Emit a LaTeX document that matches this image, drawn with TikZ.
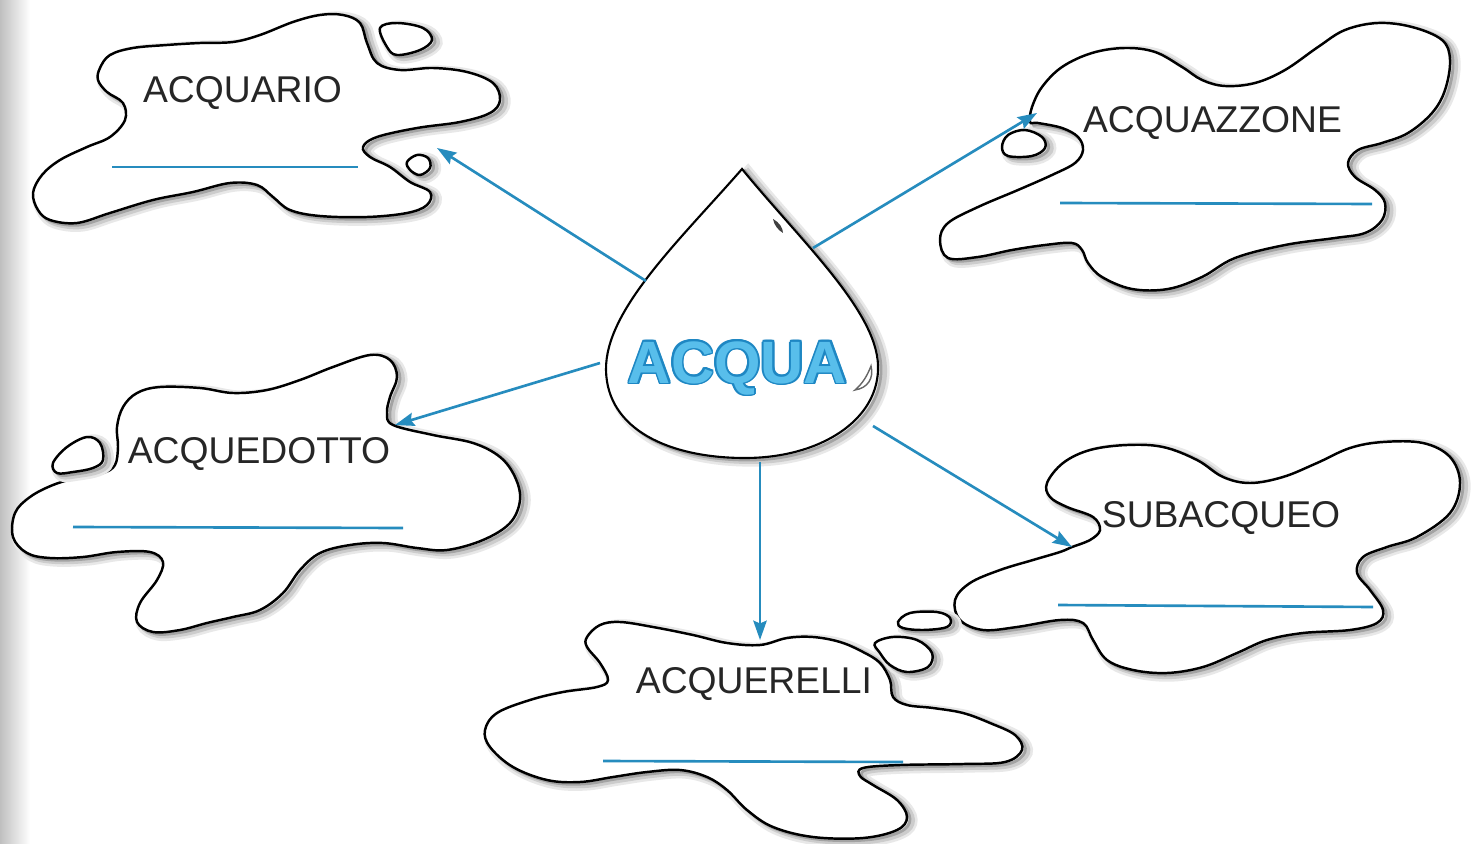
\documentclass[tikz,border=0pt]{standalone}
\usepackage{fontspec}
\setmainfont{Liberation Sans}
\usetikzlibrary{arrows.meta}
\definecolor{lineblue}{RGB}{38,140,190}
\definecolor{acquafill}{RGB}{88,190,235}
\definecolor{acquaedge}{RGB}{30,135,195}
\newcommand\puddleshape[1]{%
  \begin{scope}[shift={(5,3)}]
    \path[shadowA] plot[smooth cycle, tension=0.6] coordinates {#1};
    \path[shadowB] plot[smooth cycle, tension=0.6] coordinates {#1};
  \end{scope}
  \begin{scope}[shift={(3,2)}]
    \path[shadowC] plot[smooth cycle, tension=0.6] coordinates {#1};
  \end{scope}
  \path[outline] plot[smooth cycle, tension=0.6] coordinates {#1};
}
\begin{document}
\begin{tikzpicture}[x=0.01cm,y=-0.01cm,
  outline/.style={draw=black, line width=0.7pt, fill=white},
  shadowA/.style={draw=black!9, line width=3.2pt},
  shadowB/.style={draw=black!20, line width=1.7pt},
  shadowC/.style={draw=black!36, line width=0.8pt},
  arr/.style={draw=lineblue, line width=0.75pt, -{Stealth[length=5.5pt,width=3.8pt,inset=0.8pt]}},
  blank/.style={draw=lineblue, line width=0.75pt},
  lbl/.style={font=\fontsize{10.6pt}{12pt}\selectfont, anchor=base, inner sep=0pt, text=black!85},
  acquatxt/.style={font=\fontsize{17pt}{20pt}\selectfont\bfseries, anchor=base, inner sep=0pt},
]
\useasboundingbox (0,0) rectangle (1480,843);
\fill[white] (0,0) rectangle (1480,843);
\shade[left color=black!25, right color=white] (0,0) rectangle (30,843);

% ACQUARIO puddle
\puddleshape{(100,68) (110,55) (133,48) (167,45) (200,43) (233,42) (260,35) (293,22) (320,15) (343,15) (360,23) (367,43) (377,63) (400,70) (433,68) (467,72) (493,83) (500,100) (490,113) (460,122) (417,128) (377,137) (363,147) (370,157) (390,167) (410,182) (430,192) (427,205) (407,213) (367,217) (320,216) (290,210) (273,197) (257,185) (230,183) (193,192) (153,200) (110,213) (77,223) (50,220) (38,210) (33,193) (42,175) (60,160) (87,147) (110,137) (125,120) (123,103) (107,92) (98,80)}
\puddleshape{(380,28) (397,23) (423,28) (432,40) (420,50) (397,55) (387,47)}
\puddleshape{(407,162) (417,155) (428,158) (430,168) (420,175) (410,170)}

% ACQUAZZONE puddle
\puddleshape{(1030,122) (1032,107) (1042,87) (1062,67) (1092,53) (1125,48) (1155,52) (1182,67) (1202,80) (1225,86) (1255,83) (1285,70) (1318,47) (1345,30) (1378,23) (1412,27) (1442,40) (1450,60) (1445,90) (1432,113) (1408,133) (1382,143) (1358,150) (1348,163) (1355,177) (1375,190) (1385,203) (1382,220) (1365,233) (1335,238) (1285,245) (1235,258) (1202,277) (1168,289) (1132,289) (1102,277) (1088,263) (1082,250) (1072,243) (1045,245) (1012,250) (978,257) (948,258) (940,240) (948,223) (978,207) (1018,190) (1052,175) (1075,163) (1083,150) (1078,137) (1062,128) (1038,123)}
\puddleshape{(1002,147) (1008,135) (1025,130) (1042,137) (1045,148) (1032,156) (1008,156)}

% ACQUEDOTTO puddle
\puddleshape{(370,355) (390,360) (397,377) (390,397) (387,413) (393,425) (433,435) (473,443) (500,457) (515,477) (520,500) (510,523) (483,540) (447,550) (417,548) (383,543) (350,545) (320,553) (300,570) (283,593) (260,610) (233,617) (207,623) (180,630) (153,632) (137,622) (140,603) (157,580) (163,562) (150,552) (117,552) (83,557) (50,558) (27,553) (13,537) (15,513) (30,497) (53,485) (80,477) (103,473) (115,465) (118,447) (117,427) (123,407) (137,393) (160,387) (200,388) (233,393) (267,390) (300,380) (333,367)}
\puddleshape{(53,463) (67,447) (87,437) (100,443) (103,460) (93,468) (73,472) (57,473)}

% SUBACQUEO puddle
\puddleshape{(1072,547) (1090,540) (1100,530) (1093,517) (1067,507) (1050,497) (1047,483) (1063,463) (1090,450) (1127,445) (1163,447) (1197,460) (1223,477) (1250,483) (1283,477) (1317,463) (1350,448) (1383,442) (1423,443) (1450,457) (1460,483) (1450,513) (1417,537) (1387,547) (1363,557) (1357,573) (1370,590) (1383,610) (1377,623) (1350,630) (1303,633) (1267,640) (1237,653) (1203,667) (1167,673) (1133,670) (1107,660) (1093,640) (1083,623) (1060,620) (1017,627) (983,630) (960,620) (955,600) (970,583) (1000,570) (1033,560) (1060,552)}

% ACQUERELLI puddle
\puddleshape{(587,637) (600,625) (620,622) (653,627) (693,635) (727,643) (760,645) (787,638) (813,637) (840,642) (863,652) (880,663) (890,680) (893,697) (907,705) (933,708) (963,713) (990,723) (1015,735) (1022,750) (1005,762) (963,764) (900,765) (863,768) (860,776) (873,785) (897,800) (907,817) (897,830) (863,838) (813,837) (773,827) (747,810) (727,790) (707,777) (680,770) (647,772) (613,777) (580,782) (547,780) (513,767) (490,747) (485,730) (497,713) (530,700) (563,692) (597,687) (608,680) (600,663) (587,647)}
\puddleshape{(898,622) (910,613) (937,612) (950,618) (947,627) (923,630) (903,628)}
\puddleshape{(875,643) (893,637) (917,640) (932,653) (928,667) (907,672) (890,665) (880,653)}

% drop
\newcommand\droppath{(742,169) .. controls (680,240) and (605,310) .. (606,370) .. controls (607,430) and (670,458) .. (745,458) .. controls (820,458) and (880,420) .. (878,365) .. controls (876,310) and (800,240) .. (742,169) -- cycle}
\begin{scope}[shift={(6,3)}]
  \path[shadowA] \droppath;
  \path[shadowB] \droppath;
\end{scope}
\begin{scope}[shift={(3,2)}]
  \path[shadowC] \droppath;
\end{scope}
\path[draw=black, line width=0.6pt, fill=white] \droppath;
\fill[black!75] (773,219) .. controls (779,222) and (783,228) .. (783,233) .. controls (778,230) and (774,225) .. (773,219) -- cycle;
\draw[black!60, line width=0.4pt, fill=white] (871,366) .. controls (874,378) and (868,388) .. (855,390) .. controls (863,383) and (867,376) .. (871,366) -- cycle;

% ACQUA text
\foreach \a in {0,22.5,...,337.5} {
  \path (737.5,383) ++(\a:1.8) node[acquatxt, text=acquaedge] (acquaedge-\a) {ACQUA};
}
\node[acquatxt, text=acquafill] (acqua) at (737.5,383) {ACQUA};

% arrows
\coordinate (d1) at (646,281); \coordinate (t1) at (437,148);
\coordinate (d2) at (813,248); \coordinate (t2) at (1037,113);
\coordinate (d3) at (600,363); \coordinate (t3) at (395,425);
\coordinate (d4) at (760,462); \coordinate (t4) at (760,640);
\coordinate (d5) at (873,426); \coordinate (t5) at (1072,547);
\draw[arr] (d1) -- (t1);
\draw[arr] (d2) -- (t2);
\draw[arr] (d3) -- (t3);
\draw[arr] (d4) -- (t4);
\draw[arr] (d5) -- (t5);

% labels
\node[lbl] (acquario) at (242.5,103) {ACQUARIO};
\node[lbl] (acquazzone) at (1212.5,133) {ACQUAZZONE};
\node[lbl] (acquedotto) at (259,463) {ACQUEDOTTO};
\node[lbl] (acquerelli) at (754,693) {ACQUERELLI};
\node[lbl] (subacqueo) at (1221,527) {SUBACQUEO};

% blank lines
\draw[blank] (112,167) -- (358,167);
\draw[blank] (1060,203) -- (1372,204);
\draw[blank] (73,527) -- (403,528);
\draw[blank] (603,761) -- (903,762);
\draw[blank] (1058,605) -- (1373,607);
\end{tikzpicture}
\end{document}
